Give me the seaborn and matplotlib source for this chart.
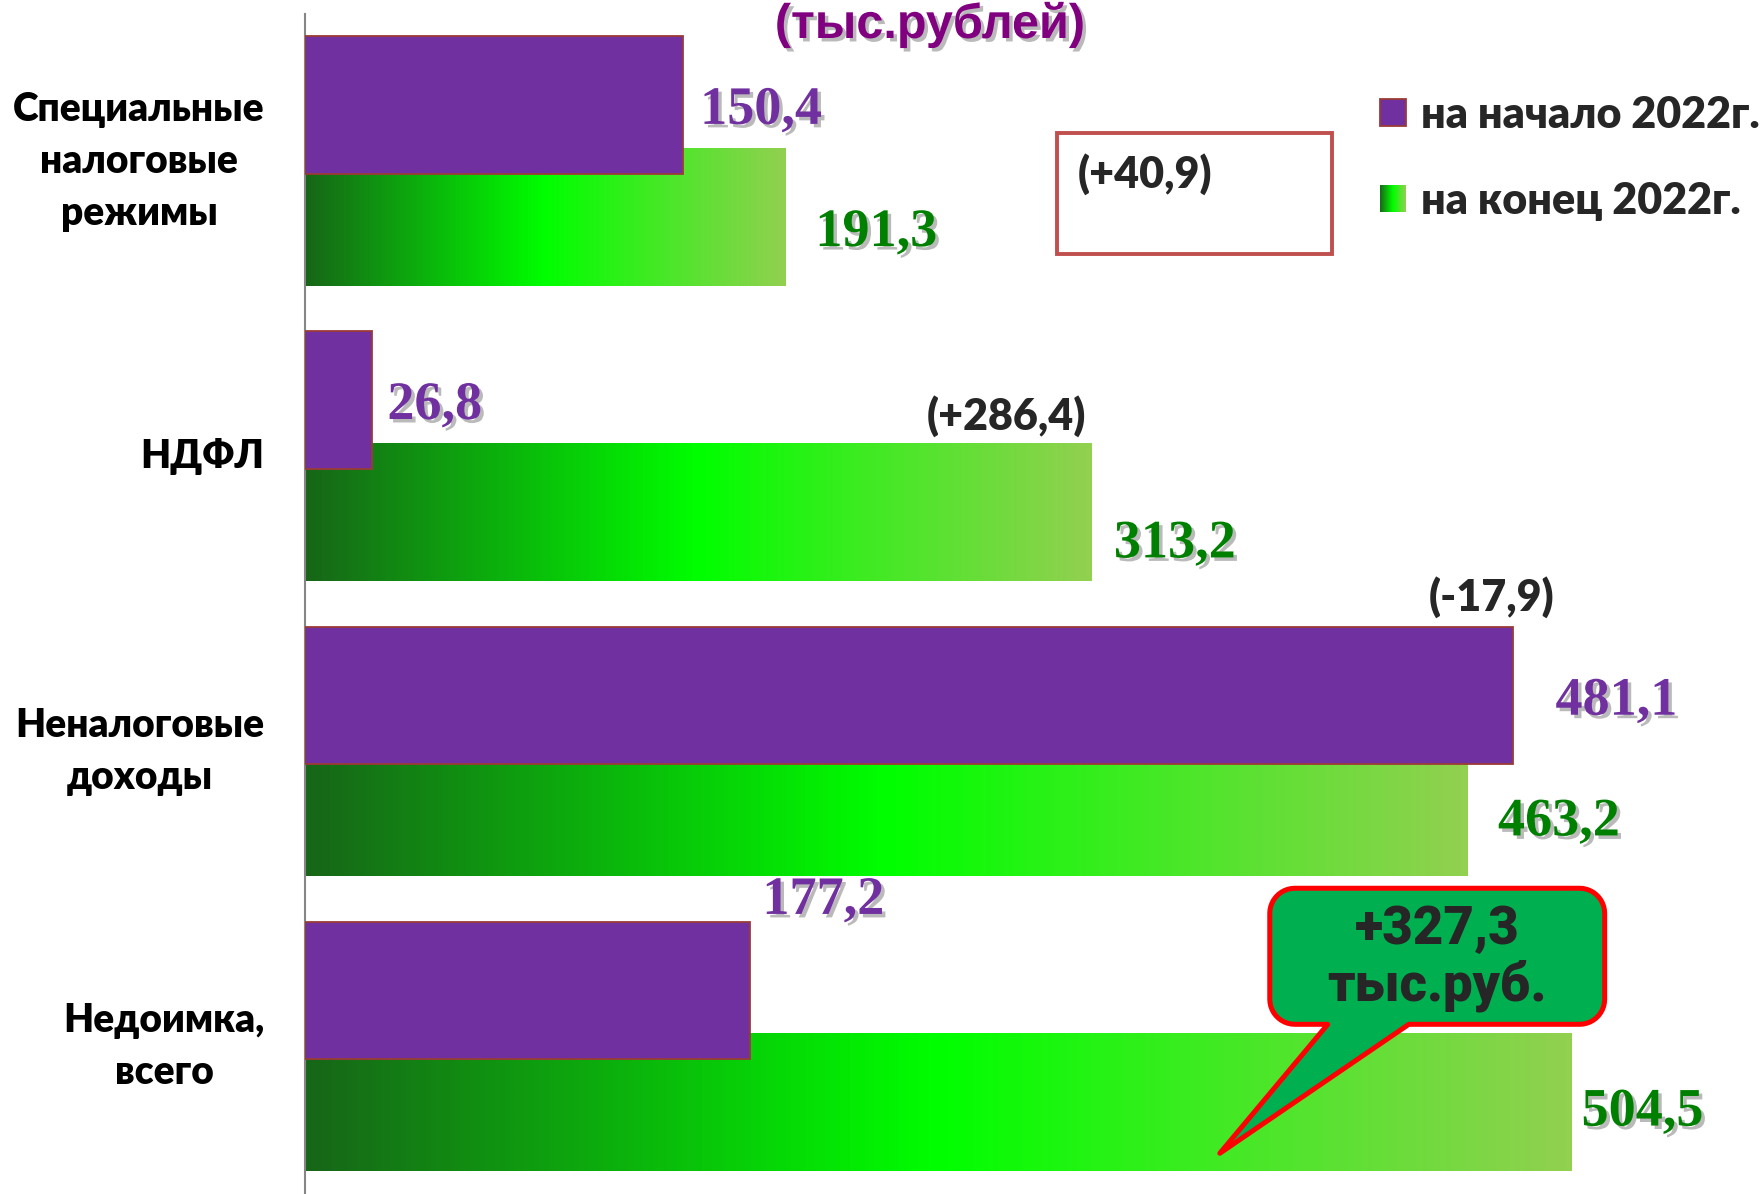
import numpy as np
import pandas as pd
import matplotlib
matplotlib.use("Agg")
import matplotlib.pyplot as plt
import matplotlib.patheffects as pe
import seaborn as sns
from matplotlib.colors import LinearSegmentedColormap
from matplotlib.patches import Patch, Rectangle, Polygon


# ---------------- data ----------------
categories = ["Специальные\nналоговые\nрежимы", "НДФЛ", "Неналоговые\nдоходы", "Недоимка,\nвсего"]
series = ["на начало 2022г.", "на конец 2022г."]
start_2022 = [150.4, 26.8, 481.1, 177.2]
end_2022 = [191.3, 313.2, 463.2, 504.5]
start_labels = ["150,4", "26,8", "481,1", "177,2"]
end_labels = ["191,3", "313,2", "463,2", "504,5"]
change_labels = ["(+40,9)", "(+286,4)", "(-17,9)"]
total_change = "+327,3\nтыс.руб."
unit_title = "(тыс.рублей)"

# ---------------- style ----------------
PURPLE = "#7030A0"
PURPLE_EDGE = "#9B3B36"
LABEL_GREEN = "#008000"
SANS = ["Lato", "Noto Sans", "DejaVu Sans"]
SERIF = ["Liberation Serif", "DejaVu Serif"]
HEAVY = 800

green_cmap = LinearSegmentedColormap.from_list(
    "bar_green", [(0.0, "#176618"), (0.5, "#00ff00"), (1.0, "#92d050")]
)
gradient = np.linspace(0, 1, 256).reshape(1, -1)
shadow = [pe.withSimplePatchShadow(offset=(2.5, -2.5), shadow_rgbFace="#666666", alpha=0.45)]

sns.set_theme(style="white")
plt.rcParams["font.family"] = SANS

df = pd.DataFrame({
    "category": categories * 2,
    "series": [series[0]] * 4 + [series[1]] * 4,
    "value": start_2022 + end_2022,
})

fig = plt.figure(figsize=(17.64, 11.94), dpi=100)
ax = fig.add_axes([305 / 1764, 0.0, (1746 - 305) / 1764, 1 - 13.5 / 1194])

sns.barplot(
    data=df, y="category", x="value", hue="series", orient="h",
    palette=[PURPLE, "#00cc00"], saturation=1, dodge=True, legend=False, ax=ax,
)

# overlapping bars like the original slide
bar_h = 0.465
offsets = [-0.19, 0.19]
for k, cont in enumerate(ax.containers):
    for i, bar in enumerate(cont):
        bar.set_y(i + offsets[k] - bar_h / 2)
        bar.set_height(bar_h)
        if k == 0:
            bar.set_edgecolor(PURPLE_EDGE)
            bar.set_linewidth(1.3)
            bar.set_zorder(4)
        else:
            bar.set_alpha(0)
            y0 = bar.get_y()
            ax.imshow(gradient, cmap=green_cmap, aspect="auto", interpolation="bicubic",
                      extent=[0, bar.get_width(), y0 + bar_h, y0], zorder=2)

ax.set_xlim(0, 574)
ax.set_ylim(3.5, -0.5)
ax.set_xticks([])
ax.set_xlabel("")
ax.set_ylabel("")
ax.set_yticks(range(len(categories)))
ax.set_yticklabels(categories, fontsize=28, fontweight=HEAVY, multialignment="center",
                   linespacing=1.5, color="black")
for lab in ax.get_yticklabels():
    lab.set_verticalalignment("center")
ax.set_yticks([-0.5, 0.5, 1.5, 2.5, 3.5], minor=True)
ax.tick_params(axis="y", which="major", length=0, pad=29)
ax.tick_params(axis="y", which="minor", length=9, width=1.3, color="#868686")
for side in ["top", "right", "bottom"]:
    ax.spines[side].set_visible(False)
ax.spines["left"].set_color("#868686")
ax.spines["left"].set_linewidth(1.5)

# value labels (hand placed, like the slide)
start_dx = [7, 6, 17, 5]
start_dy = [0.02, 0.02, 0.022, -0.303]
end_dx = [12, 9, 12, 4]
end_dy = [0.054, 0.109, 0.051, 0.034]
for i in range(len(categories)):
    ax.text(start_2022[i] + start_dx[i], i + offsets[0] + start_dy[i], start_labels[i],
            family=SERIF, fontsize=39, fontweight="bold", color=PURPLE,
            ha="left", va="center", path_effects=shadow, zorder=7)
    ax.text(end_2022[i] + end_dx[i], i + offsets[1] + end_dy[i], end_labels[i],
            family=SERIF, fontsize=39, fontweight="bold", color=LABEL_GREEN,
            ha="left", va="center", path_effects=shadow, zorder=7)

# change annotations
ax.add_patch(Rectangle((299.7, -0.096), 109.3, 0.412, facecolor="white",
                       edgecolor="#C0504D", linewidth=2.8, zorder=5))
ax.text(307.7, 0.045, change_labels[0], fontsize=31, fontweight=HEAVY,
        ha="left", va="center", zorder=6)
ax.text(311.0, 0.864, change_labels[1], fontsize=31, fontweight=HEAVY,
        ha="right", va="center", zorder=6)
ax.text(497.7, 1.478, change_labels[2], fontsize=31, fontweight=HEAVY,
        ha="right", va="center", zorder=6)


# callout with pointer
def callout_outline(x0, x1, y0, y1, rx, ry, base_l, base_r, tip):
    def arc(cx, cy, a0, a1):
        t = np.radians(np.linspace(a0, a1, 12))
        return np.column_stack([cx + rx * np.cos(t), cy - ry * np.sin(t)])
    pts = [
        arc(x0 + rx, y0 + ry, 180, 90),
        arc(x1 - rx, y0 + ry, 90, 0),
        arc(x1 - rx, y1 - ry, 0, -90),
        np.array([[base_r, y1], tip, [base_l, y1]]),
        arc(x0 + rx, y1 - ry, -90, -180),
    ]
    return np.vstack(pts)


outline = callout_outline(384.3, 517.7, 2.464, 2.925, 10.0, 0.085, 407.4, 439.7, [364.4, 3.362])
ax.add_patch(Polygon(outline, closed=True, facecolor="#00B050", edgecolor="#FF0000",
                     linewidth=3.6, joinstyle="round", zorder=8, clip_on=False))
ax.text(451.0, 2.70, total_change, family=["Roboto", "DejaVu Sans"], fontsize=38,
        fontweight="black", ha="center", va="center", linespacing=1.1, zorder=9)

# unit title
fig.text(930 / 1764, 1 - 25 / 1194, unit_title, family=["Liberation Sans", "DejaVu Sans"],
         fontsize=35, fontweight="bold", color="#800080", ha="center", va="center",
         path_effects=shadow)

# legend
handles = [Patch(facecolor=PURPLE, edgecolor=PURPLE_EDGE, linewidth=1.3),
           Patch(facecolor="#00cc00", edgecolor="none")]
leg = ax.legend(handles=handles, labels=series, loc="upper left", frameon=False,
                bbox_to_anchor=(1380 / 1764, 1 - 95 / 1194), bbox_transform=fig.transFigure,
                prop={"size": 31, "weight": HEAVY}, handlelength=0.6, handleheight=0.6,
                handletextpad=0.35, labelspacing=1.06, borderpad=0, borderaxespad=0)

fig.canvas.draw()
hb = leg.legend_handles[1].get_window_extent().transformed(fig.transFigure.inverted())
gax = fig.add_axes([hb.x0, hb.y0, hb.width, hb.height])
gax.imshow(gradient, cmap=green_cmap, aspect="auto")
gax.axis("off")

fig.savefig("out.png", dpi=100)
